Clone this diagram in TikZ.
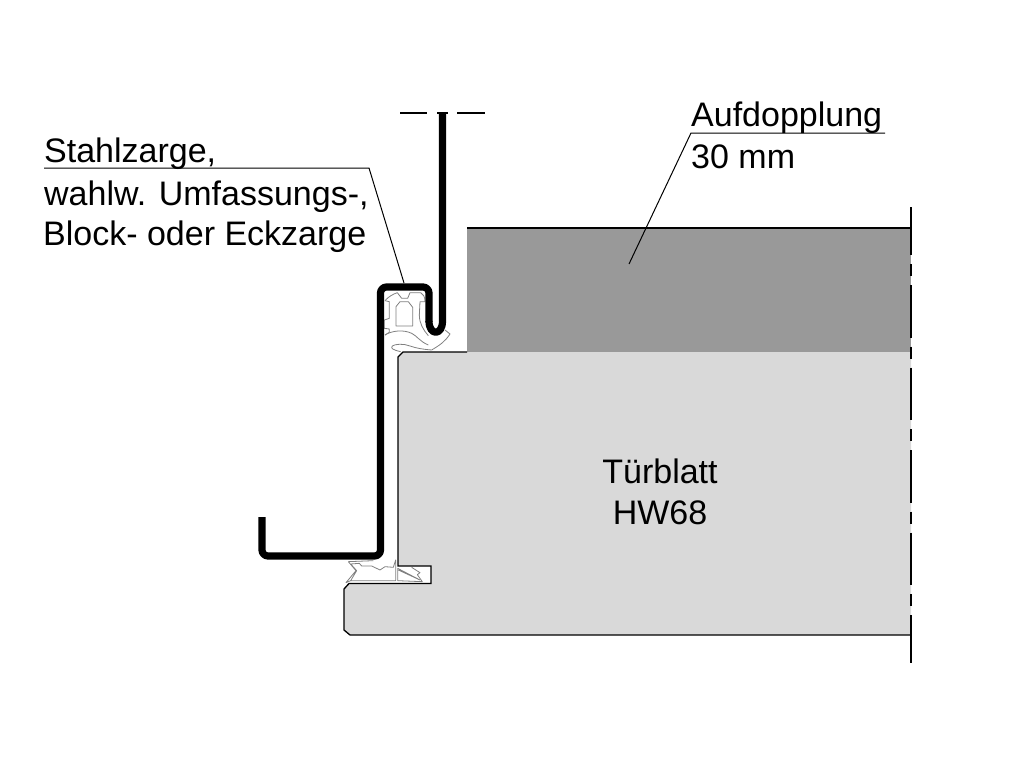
\documentclass[tikz,border=0pt]{standalone}
\usepackage{fontspec}
\setmainfont{Liberation Sans}
\begin{document}
\begin{tikzpicture}[x=1pt,y=-1pt,
  labeltext/.style={anchor=base west,inner sep=0pt,font=\fontsize{34}{40}\selectfont},
  centertext/.style={anchor=base,inner sep=0pt,font=\fontsize{34}{40}\selectfont},
  leader/.style={draw=black,line width=1pt},
  outline/.style={draw=black,line width=1.3pt},
  sealline/.style={draw=black!50,line width=0.8pt,line join=round},
  frameline/.style={draw=black,line width=7.2pt,line join=round}]
\useasboundingbox[fill=white] (0,0) rectangle (1028,768);

% door leaf and doubling
\fill[black!40] (467,228) rectangle (911,352);
\draw[outline] (467,228) -- (911,228);
\path[fill=black!15] (403,352) -- (911,352) -- (911,635) -- (350,635) -- (344,630) -- (344,590) -- (348,584) -- (431,584) -- (431,566) -- (398,566) -- (398,357) -- cycle;
\draw[outline] (467,352) -- (403,352) -- (398,357) -- (398,566) -- (431,566) -- (431,583.5) -- (349,583.5) -- (344,589) -- (344,630) -- (350,635) -- (911,635);

% axis
\draw[line width=1.5pt,dash pattern=on 52.5pt off 9pt on 12pt off 9pt,dash phase=4.5pt] (911,207) -- (911,663);
\draw[line width=1.3pt] (400,113) -- (427,113) (437,113) -- (448,113) (457,113) -- (485,113);

% top seal (zoom coordinates)
\begin{scope}[shift={(360,270)},x=0.3333pt,y=-0.3333pt]
  \draw[sealline] (75,92) .. controls (85,80) and (100,72) .. (112,68) -- (125,85) -- (143,85) -- (150,68) -- (182,68) .. controls (190,72) and (195,80) .. (195,95) -- (180,95) -- (178,135) .. controls (178,160) and (190,180) .. (205,197);
  \draw[sealline] (75,92) -- (88,95) -- (88,145) -- (73,150) -- (73,175) -- (88,177) -- (88,187) -- (75,195);
  \draw[sealline] (108,168) -- (108,110) -- (120,95) -- (145,95) -- (158,112) -- (158,168) -- cycle;
  \draw[sealline] (75,195) .. controls (95,182) and (130,178) .. (155,190) .. controls (170,197) and (180,215) .. (205,225);
  \draw[sealline] (215,240) .. controls (240,225) and (255,215) .. (270,192) -- (255,180);
  \draw[sealline] (215,240) .. controls (190,238) and (170,235) .. (150,228) .. controls (130,220) and (105,222) .. (97,228) .. controls (90,235) and (100,240) .. (122,245);
\end{scope}

% bottom seal (zoom coordinates)
\begin{scope}[shift={(330,540)},x=0.3333pt,y=-0.3333pt]
  \draw[sealline] (55,65) -- (78,92) -- (48,128) -- (62,122) -- (80,92) -- (62,72) -- (88,70) -- (95,78) -- (125,78) -- (150,90) -- (165,80) -- (190,82) -- (197,60) -- (197,122) -- (62,122);
  \draw[sealline] (55,65) -- (130,62);
  \draw[sealline] (203,85) -- (270,120) -- (205,90);
  \draw[sealline] (245,82) -- (270,98) -- (262,104) -- (277,125) -- (203,122) -- (203,85);
\end{scope}

% steel frame
\draw[frameline,rounded corners=6pt] (262,517) -- (262,556) -- (380.5,556) -- (380.5,287) -- (429,287) -- (429,322);
\draw[frameline] (429,321) .. controls (429,336) and (442.5,336) .. (442.5,321) -- (442.5,113);

% labels
\node[labeltext] (stahl) at (44,162) {Stahlzarge,};
\node[labeltext] (wahl) at (44,205) {wahlw. Umfassungs-,};
\node[labeltext] (block) at (43,245) {Block- oder Eckzarge};
\node[labeltext] (auf) at (691,126) {Aufdopplung};
\node[labeltext] (mm) at (691,168) {30 mm};
\node[centertext] (tb) at (660,483) {Türblatt};
\node[centertext] (hw) at (660,524) {HW68};

% leaders
\coordinate (sa) at (44,168);
\coordinate (sb) at (369,168);
\coordinate (sc) at (404,283);
\coordinate (aa) at (885,133);
\coordinate (ab) at (691,133);
\coordinate (ac) at (629,264);
\draw[leader] (sa) -- (sb) -- (sc);
\draw[leader] (aa) -- (ab) -- (ac);
\end{tikzpicture}
\end{document}
